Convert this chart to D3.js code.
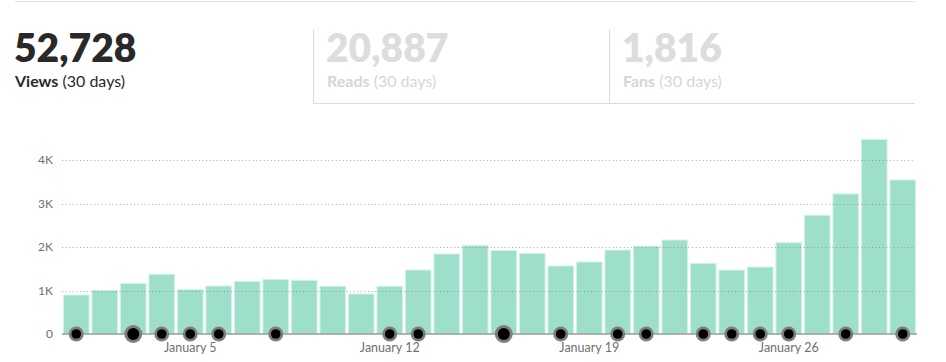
<!DOCTYPE html>
<html>
<head>
<meta charset="utf-8">
<script src="https://cdn.jsdelivr.net/npm/d3@7"></script>
<style>
  body { margin: 0; background: #fff; }
  svg { display: block; font-family: Lato, "Noto Sans", sans-serif; }
</style>
</head>
<body>
<svg id="chart"></svg>
<script>
// daily views, January 1 - 30
var days = d3.range(1, 31)
var views = [897, 1004, 1165, 1372, 1023, 1103, 1207, 1257, 1234, 1096,
             920, 1096, 1471, 1839, 2038, 1920, 1850, 1563, 1655, 1930,
             2020, 2160, 1625, 1470, 1540, 2100, 2730, 3220, 4475, 3540]
// days with published stories (2 = more than one)
var postDays = [1, 3, 4, 5, 6, 8, 12, 13, 16, 18, 20, 21, 23, 24, 25, 26, 28, 30]
var postCount = [1, 2, 1, 1, 1, 1, 1, 1, 2, 1, 1, 1, 1, 1, 1, 1, 1, 1]
var yTicks = [0, 1000, 2000, 3000, 4000]
var xTickDays = [5, 12, 19, 26]

var stats = [
    {value: "52,728", label: "Views", active: true},
    {value: "20,887", label: "Reads", active: false},
    {value: "1,816", label: "Fans", active: false}
]

var dimensions = {
    width: 946,
    height: 362,
    margin: {top: 160, bottom: 28, right: 29, left: 62}
}

var svg = d3.select("#chart")
            .attr("width", dimensions.width)
            .attr("height", dimensions.height)

// header tabs
var tabX = [15, 313, 609, 915]
svg.append("line")
   .attr("x1", 15).attr("x2", 915)
   .attr("y1", 1.5).attr("y2", 1.5)
   .attr("stroke", "#e2e2e2")

stats.forEach((s, i) => {
    var g = svg.append("g")
    if (!s.active) {
        g.append("line")
         .attr("x1", tabX[i] + 0.5).attr("x2", tabX[i] + 0.5)
         .attr("y1", 29).attr("y2", 103)
         .attr("stroke", "#dcdcdc")
        g.append("line")
         .attr("x1", tabX[i]).attr("x2", tabX[i + 1])
         .attr("y1", 103.5).attr("y2", 103.5)
         .attr("stroke", "#dcdcdc")
    }
    var tx = s.active ? tabX[i] : tabX[i] + 14
    g.append("text")
     .text(s.value)
     .attr("x", tx - 1)
     .attr("y", 62)
     .attr("fill", s.active ? "#292929" : "#dddddd")
     .style("font-size", "39px")
     .style("font-weight", 800)
    var lab = g.append("text")
               .attr("x", tx)
               .attr("y", 87)
               .attr("fill", s.active ? "#292929" : "#d6d6d6")
               .style("font-size", "16px")
    lab.append("tspan").text(s.label).style("font-weight", 700)
    lab.append("tspan").text(" (30 days)").style("font-weight", 400)
})

// chart
var xScale = d3.scaleBand()
               .domain(days)
               .range([dimensions.margin.left, dimensions.width - dimensions.margin.right])
               .paddingInner(0.1)
               .paddingOuter(0.05)

var yScale = d3.scaleLinear()
               .domain([0, 4000])
               .range([dimensions.height - dimensions.margin.bottom, dimensions.margin.top])

var x0 = dimensions.margin.left
var x1 = dimensions.width - dimensions.margin.right - 2

var bars = svg.append("g")
              .selectAll("rect")
              .data(days)
              .enter()
              .append("rect")
              .attr("x", d => xScale(d))
              .attr("width", xScale.bandwidth())
              .attr("y", (d, i) => yScale(views[i]))
              .attr("height", (d, i) => yScale(0) - yScale(views[i]))
              .attr("fill", "#9ddfca")
              .attr("stroke", "#d4f3e8")
              .attr("stroke-width", 1)

var grid = svg.append("g")
              .selectAll("line")
              .data(yTicks.slice(1))
              .enter()
              .append("line")
              .attr("x1", x0).attr("x2", x1)
              .attr("y1", d => Math.round(yScale(d)) + 0.5)
              .attr("y2", d => Math.round(yScale(d)) + 0.5)
              .attr("stroke", "#8a8a8a")
              .attr("stroke-opacity", 0.75)
              .attr("stroke-dasharray", "1,2.6")

svg.append("line")
   .attr("x1", x0).attr("x2", x1 + 2)
   .attr("y1", yScale(0)).attr("y2", yScale(0))
   .attr("stroke", "#9a9a9a")
   .attr("stroke-width", 1.5)

var yAxisGen = d3.axisLeft(yScale)
                 .tickValues(yTicks)
                 .tickSize(0)
                 .tickPadding(9)
                 .tickFormat(d => d == 0 ? "0" : d / 1000 + "K")
var yAxis = svg.append("g")
               .call(yAxisGen)
               .style("transform", `translateX(${dimensions.margin.left}px)`)
yAxis.select(".domain").remove()
yAxis.selectAll("text")
     .attr("fill", "#707070")
     .style("font-size", "12px")
     .style("font-family", "Lato, sans-serif")

var xAxisGen = d3.axisBottom(xScale)
                 .tickValues(xTickDays)
                 .tickSize(0)
                 .tickPadding(9)
                 .tickFormat(d => "January " + d)
var xAxis = svg.append("g")
               .call(xAxisGen)
               .style("transform", `translateY(${yScale(0)}px)`)
xAxis.select(".domain").remove()
xAxis.selectAll("text")
     .attr("fill", "#707070")
     .style("font-size", "12.5px")
     .style("font-family", "Lato, sans-serif")

// story markers
var markers = svg.append("g")
                 .selectAll("g")
                 .data(postDays)
                 .enter()
                 .append("g")
                 .attr("transform", d => `translate(${xScale(d) + xScale.bandwidth() / 2},${yScale(0)})`)
markers.append("circle")
       .attr("r", (d, i) => postCount[i] > 1 ? 9 : 7.5)
       .attr("fill", "#7d7d7d")
markers.append("circle")
       .attr("r", (d, i) => postCount[i] > 1 ? 6 : 4.8)
       .attr("fill", "#000")
</script>
</body>
</html>
